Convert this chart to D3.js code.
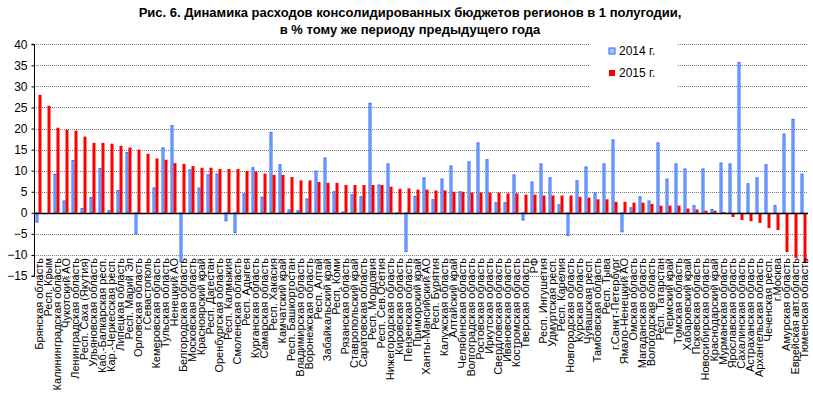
<!DOCTYPE html>
<html>
<head>
<meta charset="utf-8">
<script src="https://cdn.jsdelivr.net/npm/d3@7"></script>
<style>
  body { margin: 0; background: #fff; }
  svg { font-family: Arial, "Liberation Sans", sans-serif; }
</style>
</head>
<body>
<svg id="chart"></svg>
<script>
const regions = [
  "Брянская область", "Респ. Крым", "Калининградская область", "Чукотский АО",
  "Ленинградская область", "Респ. Саха (Якутия)", "Ульяновская область",
  "Каб.-Балкарская респ.", "Кар.-Черкесская респ.", "Липецкая область",
  "Респ. Марий Эл", "Орловская область", "г.Севастополь", "Кемеровская область",
  "Тульская область", "Ненецкий АО", "Белгородская область", "Московская область",
  "Красноярский край", "Респ. Дагестан", "Оренбургская область", "Респ. Калмыкия",
  "Смоленская область", "Респ. Адыгея", "Курганская область", "Самарская область",
  "Респ. Хакасия", "Камчатский край", "Респ. Башкортостан", "Владимирская область",
  "Воронежская область", "Респ. Алтай", "Забайкальский край", "Респ. Коми",
  "Рязанская область", "Ставропольский край", "Саратовская область", "Респ. Мордовия",
  "Респ. Сев.Осетия", "Нижегородская область", "Кировская область", "Пензенская область",
  "Приморский край", "Ханты-Мансийский АО", "Респ. Бурятия", "Калужская область",
  "Алтайский край", "Челябинская область", "Волгоградская область", "Ростовская область",
  "Иркутская область", "Свердловская область", "Ивановская область", "Костромская область",
  "Тверская область", "РФ", "Респ. Ингушетия", "Удмуртская респ.", "Респ. Карелия",
  "Новгородская область", "Курская область", "Чувашская респ.", "Тамбовская область",
  "Респ. Тыва", "г.Санкт-Петербург", "Ямало-Ненецкий АО", "Омская область",
  "Магаданская область", "Вологодская область", "Респ. Татарстан", "Пермский край",
  "Томская область", "Хабаровский край", "Псковская область", "Новосибирская область",
  "Краснодарский край", "Мурманская область", "Ярославская область", "Сахалинская область",
  "Астраханская область", "Архангельская область", "Чеченская респ.", "г.Москва",
  "Амурская область", "Еврейская авт.область", "Тюменская область"
];

const v2014 = [
  -2.2, 0, 9.1, 2.8, 12.4, 1.0, 3.6, 10.5, 0.5, 5.3, 14.3, -5.0,
  0, 5.9, 15.4, 20.7, -11.7, 10.2, 5.9, 9.0, 9.2, -1.9, -4.7, 4.5, 10.7, 3.7,
  19.1, 11.4, 0.7, 0.5, 3.3, 9.9, 13.0, 5.0, 0.2, 4.3, 3.8, 26.0, 6.6, 11.6, -0.2, -9.2,
  3.9, 8.3, 3.1, 8.0, 11.1, 5.0, 12.1, 16.6, 12.6, 2.4, 2.4, 9.0, -1.7, 7.3,
  11.6, 8.3, 1.9, -5.4, 7.6, 10.9, 4.7, 11.6, 17.3, -4.5, 1.2, 3.8, 2.8, 16.6, 8.0,
  11.6, 10.4, 1.7, 10.4, 0.8, 11.8, 11.6, 35.7, 6.9, 8.3, 11.4, 1.7, 18.7, 22.2, 9.2
];

const v2015 = [
  28.0, 25.4, 20.2, 19.7, 19.5, 18.1, 16.6, 16.6, 16.4, 15.9, 15.5, 15.0,
  14.0, 12.9, 12.6, 11.8, 11.6, 11.1, 10.7, 10.7, 10.4, 10.4, 10.4, 9.9, 9.8, 9.3,
  9.0, 9.0, 8.5, 7.7, 7.7, 7.3, 7.1, 7.1, 6.6, 6.6, 6.6, 6.6, 6.6, 6.2, 5.7, 5.8,
  5.5, 5.5, 5.3, 5.3, 5.0, 5.0, 4.8, 4.8, 4.8, 4.8, 4.6, 4.6, 4.3, 4.3,
  4.1, 4.1, 4.1, 4.1, 3.8, 3.6, 3.2, 3.2, 2.6, 2.6, 2.4, 2.4, 2.1, 1.7, 1.7,
  1.7, 1.0, 0.8, 0.5, 0.5, 0.2, -1.0, -1.7, -2.0, -2.4, -3.6, -4.1, -9.3, -10.7, -11.7
];

const yTicks = [-15, -10, -5, 0, 5, 10, 15, 20, 25, 30, 35, 40];
const seriesNames = ["2014 г.", "2015 г."];
const titleLines = [
  "Рис. 6. Динамика расходов консолидированных бюджетов регионов в 1 полугодии,",
  "в % тому же периоду предыдущего года"
];

const width = 813, height = 397;
const plot = { left: 34, right: 808, top: 44.3, bottom: 276 };

const svg = d3.select("#chart")
  .attr("width", width)
  .attr("height", height);

// title
svg.append("g").selectAll("text")
  .data(titleLines)
  .enter().append("text")
  .attr("x", 410)
  .attr("y", (d, i) => 17 + i * 17)
  .attr("text-anchor", "middle")
  .style("font-size", "13px")
  .style("font-weight", "bold")
  .text(d => d);

const x = d3.scaleBand()
  .domain(regions)
  .range([plot.left, plot.right]);

const x1 = d3.scaleBand()
  .domain(["a", "b"])
  .range([0, x.bandwidth()])
  .paddingOuter(0.5)
  .paddingInner(0);

const y = d3.scaleLinear()
  .domain([-15, 40])
  .range([plot.bottom, plot.top]);

// gridlines
svg.append("g").selectAll("line")
  .data(yTicks.filter(t => t !== 0))
  .enter().append("line")
  .attr("x1", plot.left)
  .attr("x2", plot.right)
  .attr("y1", d => Math.round(y(d)) + 0.5)
  .attr("y2", d => Math.round(y(d)) + 0.5)
  .style("stroke", "#777")
  .style("stroke-dasharray", "1,1");

// y axis
const yAxis = d3.axisLeft(y)
  .tickValues(yTicks)
  .tickSize(3)
  .tickFormat(d3.format("d"));

const gy = svg.append("g")
  .attr("transform", `translate(${plot.left + 0.5},0)`)
  .call(yAxis);
gy.select(".domain").attr("d", `M-3,${y(40)}H0V${y(-15)}H-3`).style("stroke", "#000");
gy.selectAll(".tick line").style("stroke", "#000");
gy.selectAll(".tick text")
  .attr("x", -7)
  .style("font-size", "12px")
  .style("font-family", "Arial, 'Liberation Sans', sans-serif")
  .style("fill", "#000");

// bars 2014
svg.append("g").selectAll("rect")
  .data(regions)
  .enter().append("rect")
  .attr("x", (d, i) => x(d) + x1("a") + 0.5)
  .attr("width", x1.bandwidth() - 1)
  .attr("y", (d, i) => y(Math.max(0, v2014[i])))
  .attr("height", (d, i) => Math.abs(y(v2014[i]) - y(0)))
  .style("fill", "#99ccff")
  .style("stroke", "#3366ff")
  .style("stroke-width", 1);

// bars 2015
svg.append("g").selectAll("rect")
  .data(regions)
  .enter().append("rect")
  .attr("x", (d, i) => x(d) + x1("b"))
  .attr("width", x1.bandwidth())
  .attr("y", (d, i) => y(Math.max(0, v2015[i])))
  .attr("height", (d, i) => Math.abs(y(v2015[i]) - y(0)))
  .style("fill", "#ff0000");

// zero line
svg.append("line")
  .attr("x1", plot.left)
  .attr("x2", plot.right)
  .attr("y1", Math.round(y(0)) + 0.5)
  .attr("y2", Math.round(y(0)) + 0.5)
  .style("stroke", "#000")
  .style("stroke-width", 1.5);

// category labels
svg.append("g").selectAll("text")
  .data(regions)
  .enter().append("text")
  .attr("transform", d => `translate(${x(d) + x.bandwidth() / 2 + 4},258) rotate(-90)`)
  .attr("text-anchor", "end")
  .style("font-size", "11px")
  .text(d => d);

// legend
const legend = svg.append("g");
legend.append("rect")
  .attr("x", 589).attr("y", 40)
  .attr("width", 89).attr("height", 57)
  .style("fill", "#fff");

const legendItems = legend.selectAll("g.item")
  .data(seriesNames)
  .enter().append("g")
  .attr("class", "item")
  .attr("transform", (d, i) => `translate(609,${48 + i * 22})`);

legendItems.append("rect")
  .attr("width", 6).attr("height", 6)
  .style("fill", (d, i) => i === 0 ? "#99ccff" : "#ff0000")
  .style("stroke", (d, i) => i === 0 ? "#3366ff" : "none");

legendItems.append("text")
  .attr("x", 10).attr("y", 7)
  .style("font-size", "12px")
  .text(d => d);
</script>
</body>
</html>
